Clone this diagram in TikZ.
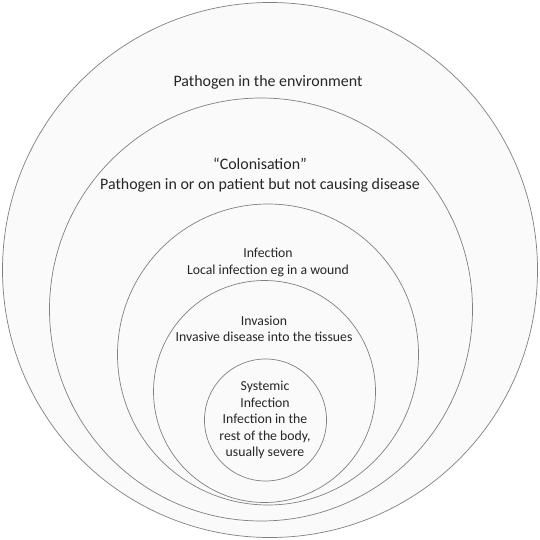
\documentclass[tikz,border=0pt]{standalone}
\usepackage{fontspec}
\setmainfont{Carlito}
\begin{document}
\begin{tikzpicture}[x=1bp,y=-1bp,
  ring/.style={draw=black!50,line width=0.7bp,fill=black!2},
  bigtext/.style={font=\fontsize{16}{19.5}\selectfont,align=center,inner sep=0pt,text=black!85},
  smalltext/.style={font=\fontsize{13.8}{16.5}\selectfont,align=center,inner sep=0pt,text=black!85}]
\useasboundingbox (0,0) rectangle (540,540);
\fill[white] (0,0) rectangle (540,540);
\draw[ring] (270,270) circle[radius=267.5];
\draw[ring] (261,309.5) circle[radius=211.5];
\draw[ring] (268,354.5) circle[radius=150.5];
\draw[ring] (264.5,391.5) circle[radius=111];
\draw[ring] (265.5,420) circle[radius=61];
\node[bigtext] (env) at (268,82) {Pathogen in the environment};
\node[bigtext] (col) at (260,175) {“Colonisation”\\Pathogen in or on patient but not causing disease};
\node[smalltext] (inf) at (268,262.5) {Infection\\Local infection eg in a wound};
\node[smalltext] (inv) at (264,329) {Invasion\\Invasive disease into the tissues};
\node[smalltext] (sys) at (265,420) {Systemic\\Infection\\Infection in the\\rest of the body,\\usually severe};
\end{tikzpicture}
\end{document}
